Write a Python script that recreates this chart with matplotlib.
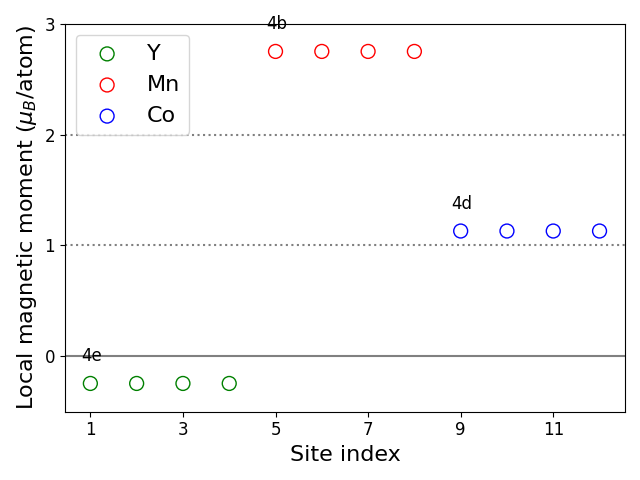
import numpy as np
import matplotlib.pyplot as plt

y_sites = [1, 2, 3, 4]
mn_sites = [5, 6, 7, 8]
co_sites = [9, 10, 11, 12]
y_moments = [-0.245, -0.245, -0.245, -0.245]
mn_moments = [2.75, 2.75, 2.75, 2.75]
co_moments = [1.13, 1.13, 1.13, 1.13]
wyckoff = ['4e', '4b', '4d']

fig, ax = plt.subplots(figsize=(6.4, 4.8))

ax.axhline(0, color='gray', linestyle='-')
ax.axhline(1, color='gray', linestyle=':')
ax.axhline(2, color='gray', linestyle=':')

groups = [(y_sites, y_moments, 'green', 'Y'),
          (mn_sites, mn_moments, 'red', 'Mn'),
          (co_sites, co_moments, 'blue', 'Co')]
for (sites, moments, color, label), site_label in zip(groups, wyckoff):
    ax.scatter(sites, moments, s=100, facecolors='none', edgecolors=color, label=label)
    ax.text(sites[0] - 0.2, moments[0] + 0.2, site_label, fontsize=12)

ax.set_xticks(np.arange(1, 13, 2))
ax.set_yticks([0, 1, 2, 3])
ax.set_ylim(-0.5, 3)
ax.tick_params(labelsize=12)
ax.set_xlabel('Site index', fontsize=16)
ax.set_ylabel('Local magnetic moment ($\\mu_B$/atom)', fontsize=16)
ax.legend(loc='upper left', fontsize=16)
fig.tight_layout()
fig.savefig('out.png', dpi=100)
